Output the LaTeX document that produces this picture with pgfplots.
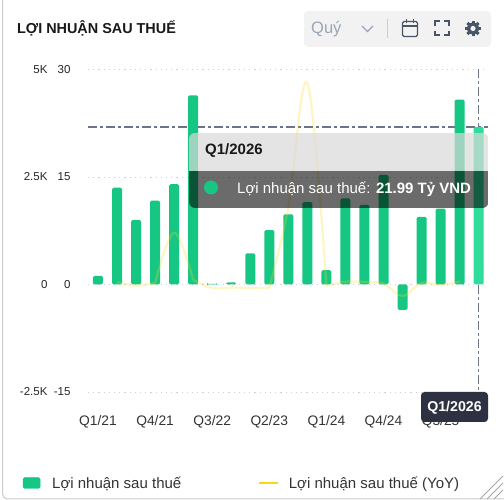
\documentclass[border=0pt]{standalone}
\usepackage{pgfplots}
\usepackage{fontspec}
\setmainfont{Liberation Sans}
\pgfplotsset{compat=1.18}
\definecolor{barg}{HTML}{16C784}
\definecolor{barh}{HTML}{2FDC9B}
\definecolor{yel}{HTML}{FCD714}
\definecolor{slatec}{HTML}{6B7488}
\definecolor{icon}{HTML}{475569}
\definecolor{quy}{HTML}{9AA5B8}
\definecolor{ptr}{HTML}{2D3142}
\newcommand{\sz}[1]{\fontsize{#1}{#1}\selectfont}
\begin{document}
\begin{tikzpicture}[x=1pt,y=1pt]
\path[use as bounding box,fill=white] (0,0) rectangle (504,500);
% card
\draw[color=black!20,line width=1pt,rounded corners=5pt] (2.5,505) -- (2.5,1) -- (510,1);
\begin{axis}[at={(88pt,108pt)},anchor=south west,scale only axis,width=400pt,height=322.5pt,
 xmin=-0.525,xmax=20.49,ymin=-15,ymax=30,
 axis line style={draw=none},major tick length=0pt,
 xtick={0,3,6,9,12,15,18},xticklabels={Q1/21,Q4/21,Q3/22,Q2/23,Q1/24,Q4/24,Q3/25},
 xticklabel style={font=\sz{13.8},text=black!80,anchor=center,yshift=-30pt},
 ytick={-15,0,15,30},yticklabels={-15,0,15,30},
 yticklabel style={font=\sz{11.5},text=black!85,anchor=east,xshift=-14pt},
 ymajorgrids,grid style={black!18,line width=0.9pt,dash pattern=on 1.2pt off 4pt},
 clip=false,axis on top=false]
\addplot[slatec,line width=1.4pt,dash pattern=on 9pt off 3pt on 3pt off 3pt] coordinates {(-0.525,21.99)(20.49,21.99)};
\addplot[slatec,line width=1.4pt,dash pattern=on 9pt off 3pt on 3pt off 3pt] coordinates {(20,30)(20,-15)};
\addplot[ybar,bar shift=0pt,bar width=10pt,fill=barg,draw=none,rounded corners=1.5pt] coordinates {
(0,1.2)(1,13.5)(2,9)(3,11.7)(4,14)(5,26.4)(6,0.1)(7,0.3)(8,4.35)(9,7.6)(10,9.8)(11,11.5)(12,2)(13,12)(14,11.1)(15,15.3)(16,-3.55)(17,9.45)(18,10.6)(19,25.8)};
\addplot[ybar,bar shift=0pt,bar width=10pt,fill=barh,draw=none,rounded corners=1.5pt] coordinates {(20,21.99)};
\end{axis}
\begin{axis}[at={(88pt,108pt)},anchor=south west,scale only axis,width=400pt,height=322.5pt,
 xmin=-0.525,xmax=20.49,ymin=-2500,ymax=5000,
 axis line style={draw=none},major tick length=0pt,xtick=\empty,
 ytick={-2500,0,2500,5000},yticklabels={-2.5K,0,2.5K,5K},
 yticklabel style={font=\sz{11.5},text=black!85,anchor=east,xshift=-37pt},
 clip=false,
 legend style={at={(-65pt,-91pt)},anchor=west,draw=none,fill=none,inner sep=0pt,outer sep=0pt,font=\sz{15},text=black!80,
  legend columns=2,/tikz/every even column/.append style={column sep=75pt}},
 legend cell align=left]
\pgfplotsset{yoy/.style={yel,opacity=0.25,line width=2.2pt,smooth,tension=0.6,forget plot}}
\addplot[yoy] coordinates {(1,58)(2,-28)(3,35)};
\addplot[yoy] coordinates {(3,35)(4,1205)(5,105)};
\addplot[yoy] coordinates {(5,105)(6,-81)(7,-70)(8,-81)(9,-81)};
\addplot[yoy] coordinates {(9,-81)(10,1800)(11,4686)(12,-35)};
\addplot[yoy] coordinates {(12,-35)(13,65)(14,58)(15,23)(16,-267)(17,35)(18,-12)(19,70)};
\addlegendimage{legend image code/.code={\fill[barg,rounded corners=1.5pt] (0pt,-5.5pt) rectangle (17pt,5.5pt);\path[draw=none] (0,0) -- (27pt,0);}}
\addlegendentry{Lợi nhuận sau thuế}
\addlegendimage{legend image code/.code={\path[draw=yel,line width=1.2pt] (0pt,0pt) -- (19pt,0pt);\path[draw=none] (0,0) -- (28pt,0);}}
\addlegendentry{Lợi nhuận sau thuế (YoY)}
\end{axis}
% title
\node[anchor=west,inner sep=0pt,font=\sz{14.4}\bfseries,text=black!90] at (17,472) {LỢI NHUẬN SAU THUẾ};
% controls
\fill[black!5,rounded corners=4pt] (304,453) rectangle (491,489);
\node[anchor=west,inner sep=0pt,font=\sz{16.5},text=quy] at (311,471) {Quý};
\draw[color=quy,line width=1.2pt] (362,474) -- (367.5,468.5) -- (373,474);
\draw[color=black!20,line width=0.8pt] (387,462) -- (387,481);
\draw[icon,line width=1.2pt,rounded corners=1.5pt] (402.5,463.5) rectangle (417.5,478.5);
\draw[icon,line width=1.2pt] (402.5,474) -- (417.5,474) (406.5,477) -- (406.5,481) (413.5,477) -- (413.5,481);
\draw[icon,line width=1.4pt] (435,474) -- (435,479) -- (440,479) (444,479) -- (449,479) -- (449,474) (449,469) -- (449,465) -- (444,465) (440,465) -- (435,465) -- (435,469);
\fill[icon] (473,471.5) circle (6);
\foreach \a in {0,45,...,315}{\fill[icon,rotate around={\a:(473,471.5)}] (471.5,471.5) rectangle (474.5,479.3);}
\fill[black!5] (473,471.5) circle (2.6);
% tooltip
\begin{scope}
\clip[rounded corners=6pt] (189,292) rectangle (488.5,367);
\fill[black!15,opacity=0.7] (189,329) rectangle (488.5,367);
\fill[black,opacity=0.58] (189,292) rectangle (488.5,329);
\end{scope}
\node[anchor=west,inner sep=0pt,font=\sz{15}\bfseries,text=black!90] at (205,349) {Q1/2026};
\fill[barg] (211,312.5) circle (7);
\node[anchor=west,inner sep=0pt,font=\sz{15},text=white] at (237,310.5) {Lợi nhuận sau thuế: \textbf{21.99 Tỷ VND}};
% pointer label
\fill[ptr,rounded corners=3.5pt] (421,78) rectangle (488,108);
\node[inner sep=0pt,font=\sz{14.2}\bfseries,text=white] at (454.5,92.5) {Q1/2026};
% resize handle
\draw[black!35,line width=1pt] (480,1) -- (503,24) (487,1) -- (503,17) (494,1) -- (503,10);
\end{tikzpicture}
\end{document}
